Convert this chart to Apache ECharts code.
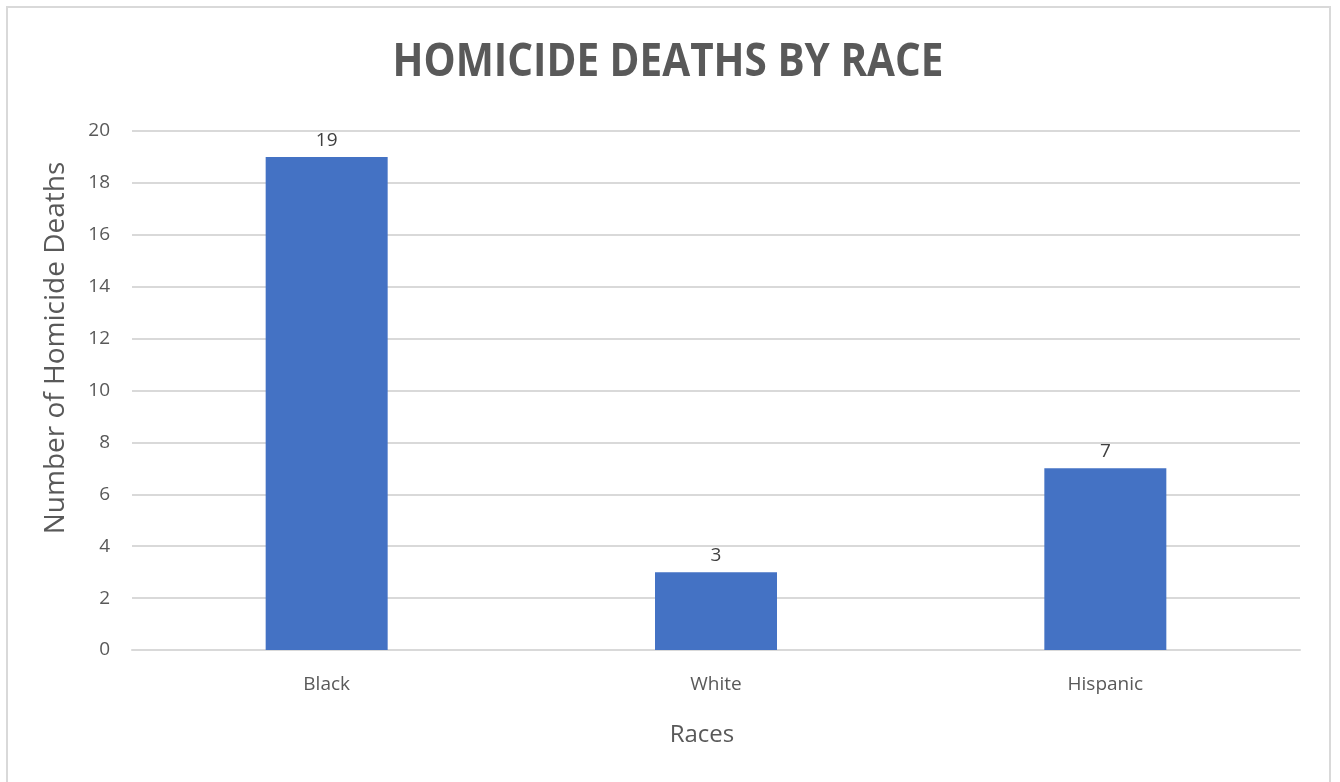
<!DOCTYPE html>
<html><head><meta charset="utf-8">
<script src="https://cdn.jsdelivr.net/npm/echarts@6/dist/echarts.min.js"></script>
<style>html,body{margin:0;padding:0;background:#fff}#c{width:1340px;height:782px}</style>
</head><body><div id="c"></div>
<script>
const categories = ['Black', 'White', 'Hispanic'];
const deaths = [19, 3, 7];
const yTicks = [0, 2, 4, 6, 8, 10, 12, 14, 16, 18, 20];
const titleText = 'HOMICIDE DEATHS BY RACE';
const yName = 'Number of Homicide Deaths';
const xName = 'Races';

const chart = echarts.init(document.getElementById('c'), null, {renderer: 'canvas'});
const txt = '#595959';
const ff = 'Open Sans, sans-serif';
chart.setOption({
  backgroundColor: '#fff',
  graphic: [{
    type: 'rect', shape: {x: 7, y: 7, width: 1323, height: 790},
    style: {fill: 'none', stroke: '#d9d9d9', lineWidth: 2}, silent: true
  }, {
    type: 'text', x: 668, y: 63, scaleX: 0.88,
    style: {text: titleText, fontFamily: ff, fontWeight: 'bold', fontSize: 46, fill: txt,
      textAlign: 'center', textVerticalAlign: 'middle'}, silent: true
  }, {
    type: 'text', x: 56, y: 348, rotation: Math.PI / 2,
    style: {text: yName, fontFamily: ff, fontSize: 28, fill: txt,
      textAlign: 'center', textVerticalAlign: 'middle'}, silent: true
  }],
  grid: {left: 132, right: 40, top: 131, bottom: 132},
  xAxis: {
    type: 'category', data: categories,
    name: xName, nameLocation: 'middle', nameGap: 73,
    nameTextStyle: {fontFamily: ff, fontSize: 24, color: txt, padding: [0, 28, 0, 0]},
    axisLine: {show: true, lineStyle: {color: '#d9d9d9', width: 2}},
    axisTick: {show: false},
    axisLabel: {fontFamily: ff, fontSize: 19, color: txt, margin: 25}
  },
  yAxis: {
    type: 'value', min: yTicks[0], max: yTicks[yTicks.length - 1], interval: 2,
    axisLine: {show: false}, axisTick: {show: false},
    axisLabel: {fontFamily: ff, fontSize: 19, color: txt, margin: 22},
    splitLine: {lineStyle: {color: '#d9d9d9', width: 2}}
  },
  series: [{
    type: 'bar', data: deaths, barWidth: 122,
    itemStyle: {color: '#4472C4'},
    label: {show: true, position: 'top', distance: 7, fontFamily: ff, fontSize: 19, color: '#404040'}
  }]
});
</script></body></html>
